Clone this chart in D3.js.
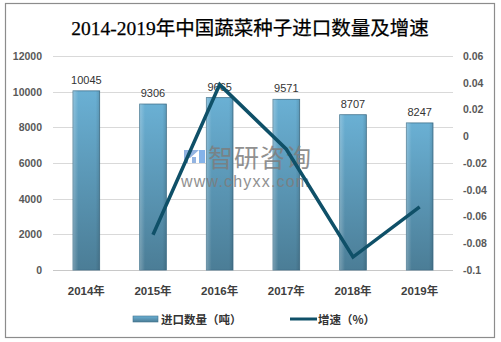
<!DOCTYPE html>
<html>
<head>
<meta charset="utf-8">
<script src="https://cdn.jsdelivr.net/npm/d3@7/dist/d3.min.js"></script>
<style>
  html, body { margin: 0; padding: 0; background: #fff; }
  svg { display: block; }
</style>
</head>
<body>
<svg id="chart" width="501" height="342"></svg>
<script>
// Chart data
const years = ["2014年", "2015年", "2016年", "2017年", "2018年", "2019年"];
const importVolume = [10045, 9306, 9665, 9571, 8707, 8247];
const growthRate = [null, -0.0736, 0.0386, -0.0097, -0.0903, -0.0528];
const leftTicks = [0, 2000, 4000, 6000, 8000, 10000, 12000];
const rightTicks = [-0.1, -0.08, -0.06, -0.04, -0.02, 0, 0.02, 0.04, 0.06];
const titleText = "2014-2019年中国蔬菜种子进口数量及增速";
const legendLabels = ["进口数量（吨）", "增速（%）"];

const svg = d3.select("#chart");
const plot = { left: 53, right: 453, top: 56, bottom: 270 };

const latin = "'Liberation Sans', Arial, 'Noto Sans CJK SC', sans-serif";

// Outer frame
svg.append("rect")
  .attr("x", 5.5).attr("y", 3.5)
  .attr("width", 489).attr("height", 334)
  .attr("fill", "#fff").attr("stroke", "#8c8c8c").attr("stroke-width", 1.2);

// Title
svg.append("text")
  .attr("x", 250).attr("y", 35)
  .attr("text-anchor", "middle")
  .attr("font-family", "'Liberation Serif', 'Noto Sans CJK SC', serif")
  .attr("font-size", 19.5)
  .attr("fill", "#000")
  .attr("stroke", "#000").attr("stroke-width", 0.25)
  .text(titleText);

// Scales
const x = d3.scaleBand().domain(years).range([plot.left, plot.right]).paddingInner(0.6).paddingOuter(0.3);
const xc = d => x(d) + x.bandwidth() / 2;
const yL = d3.scaleLinear().domain([0, 12000]).range([plot.bottom, plot.top]);
const yR = d3.scaleLinear().domain([-0.1, 0.06]).range([plot.bottom, plot.top]);

// Gradients for bars
const defs = svg.append("defs");
const grad = defs.append("linearGradient").attr("id", "barGrad")
  .attr("x1", 0).attr("y1", 0).attr("x2", 0).attr("y2", 1);
grad.append("stop").attr("offset", "0%").attr("stop-color", "#6ab0d4");
grad.append("stop").attr("offset", "100%").attr("stop-color", "#4b7d96");
const gradH = defs.append("linearGradient").attr("id", "barGradH")
  .attr("x1", 0).attr("y1", 0).attr("x2", 1).attr("y2", 0);
gradH.append("stop").attr("offset", "0%").attr("stop-color", "#fff").attr("stop-opacity", 0.25);
gradH.append("stop").attr("offset", "20%").attr("stop-color", "#fff").attr("stop-opacity", 0.0);
gradH.append("stop").attr("offset", "85%").attr("stop-color", "#000").attr("stop-opacity", 0.0);
gradH.append("stop").attr("offset", "100%").attr("stop-color", "#000").attr("stop-opacity", 0.12);

// Gridlines
svg.append("g").selectAll("line").data(leftTicks).join("line")
  .attr("x1", plot.left).attr("x2", plot.right)
  .attr("y1", d => Math.round(yL(d)) + 0.5).attr("y2", d => Math.round(yL(d)) + 0.5)
  .attr("stroke", d => d === 0 ? "#c8c8c8" : "#d9d9d9").attr("stroke-width", 1);

// Left axis
const axL = d3.axisLeft(yL).tickValues(leftTicks).tickSize(0).tickPadding(11).tickFormat(d3.format("d"));
svg.append("g").attr("transform", `translate(${plot.left},0)`).call(axL)
  .call(g => g.select(".domain").remove())
  .selectAll("text")
  .attr("font-family", latin).attr("font-size", 10.5).attr("font-weight", "bold").attr("fill", "#595959");

// Right axis
const axR = d3.axisRight(yR).tickValues(rightTicks).tickSize(0).tickPadding(10)
  .tickFormat(d => (Math.abs(d) < 1e-9 ? "0" : String(+d.toFixed(2))));
svg.append("g").attr("transform", `translate(${plot.right},0)`).call(axR)
  .call(g => g.select(".domain").remove())
  .selectAll("text")
  .attr("font-family", latin).attr("font-size", 10.5).attr("font-weight", "bold").attr("fill", "#595959");

// Bars
const bars = svg.append("g");
bars.selectAll("rect.bar").data(importVolume).join("rect")
  .attr("class", "bar")
  .attr("x", (d, i) => x(years[i]))
  .attr("y", d => yL(d))
  .attr("width", x.bandwidth())
  .attr("height", d => yL(0) - yL(d))
  .attr("fill", "url(#barGrad)")
  .attr("stroke", "#41728c").attr("stroke-width", 0.8);
bars.selectAll("rect.shade").data(importVolume).join("rect")
  .attr("class", "shade")
  .attr("x", (d, i) => x(years[i]))
  .attr("y", d => yL(d))
  .attr("width", x.bandwidth())
  .attr("height", d => yL(0) - yL(d))
  .attr("fill", "url(#barGradH)");

// Value labels
svg.append("g").selectAll("text").data(importVolume).join("text")
  .attr("x", (d, i) => xc(years[i]))
  .attr("y", d => yL(d) - 7)
  .attr("text-anchor", "middle")
  .attr("font-family", latin).attr("font-size", 11).attr("fill", "#333")
  .text(d => d);

// X axis labels
svg.append("g").selectAll("text").data(years).join("text")
  .attr("x", d => xc(d)).attr("y", 295)
  .attr("text-anchor", "middle")
  .attr("font-family", latin).attr("font-size", 11.5).attr("font-weight", "bold").attr("fill", "#404040")
  .text(d => d);

// Watermark
const wm = svg.append("g").attr("opacity", 0.85);
wm.append("path")
  .attr("d", "M184,150 h15 l-9,8 h-6 z M184,158 h4 v5 h-4 z M192,157 h4 v6 h-4 z")
  .attr("fill", "#7fa6dc");
wm.append("rect").attr("x", 199).attr("y", 150).attr("width", 6).attr("height", 13).attr("fill", "#6fa6e6");
wm.append("text").attr("x", 208).attr("y", 167)
  .attr("font-family", "'Noto Sans CJK SC', sans-serif").attr("font-size", 25)
  .attr("fill", "#7d7d7d").attr("letter-spacing", 1)
  .text("智研咨询");
wm.append("text").attr("x", 181).attr("y", 187)
  .attr("font-family", "'Liberation Sans', Arial, sans-serif").attr("font-size", 16)
  .attr("fill", "#7d7d7d").attr("letter-spacing", 1.2)
  .text("www.chyxx.com");

// Growth line
const line = d3.line()
  .defined(d => d.v !== null)
  .x(d => xc(d.k))
  .y(d => yR(d.v));
svg.append("path")
  .datum(years.map((k, i) => ({ k, v: growthRate[i] })))
  .attr("d", line)
  .attr("fill", "none")
  .attr("stroke", "#0f5068")
  .attr("stroke-width", 3.5)
  .attr("stroke-linejoin", "miter");

// Legend
const lg = svg.append("g");
lg.append("rect").attr("x", 133).attr("y", 316).attr("width", 25).attr("height", 6)
  .attr("fill", "url(#barGrad)").attr("stroke", "#41728c").attr("stroke-width", 0.6);
lg.append("text").attr("x", 161).attr("y", 323.5)
  .attr("font-family", "'Noto Sans CJK SC', sans-serif").attr("font-size", 11.5).attr("font-weight", "bold").attr("fill", "#333")
  .text(legendLabels[0]);
lg.append("line").attr("x1", 290).attr("x2", 317).attr("y1", 319).attr("y2", 319)
  .attr("stroke", "#0f5068").attr("stroke-width", 3);
lg.append("text").attr("x", 318).attr("y", 323.5)
  .attr("font-family", "'Noto Sans CJK SC', sans-serif").attr("font-size", 11.5).attr("font-weight", "bold").attr("fill", "#333")
  .text(legendLabels[1]);
</script>
</body>
</html>
